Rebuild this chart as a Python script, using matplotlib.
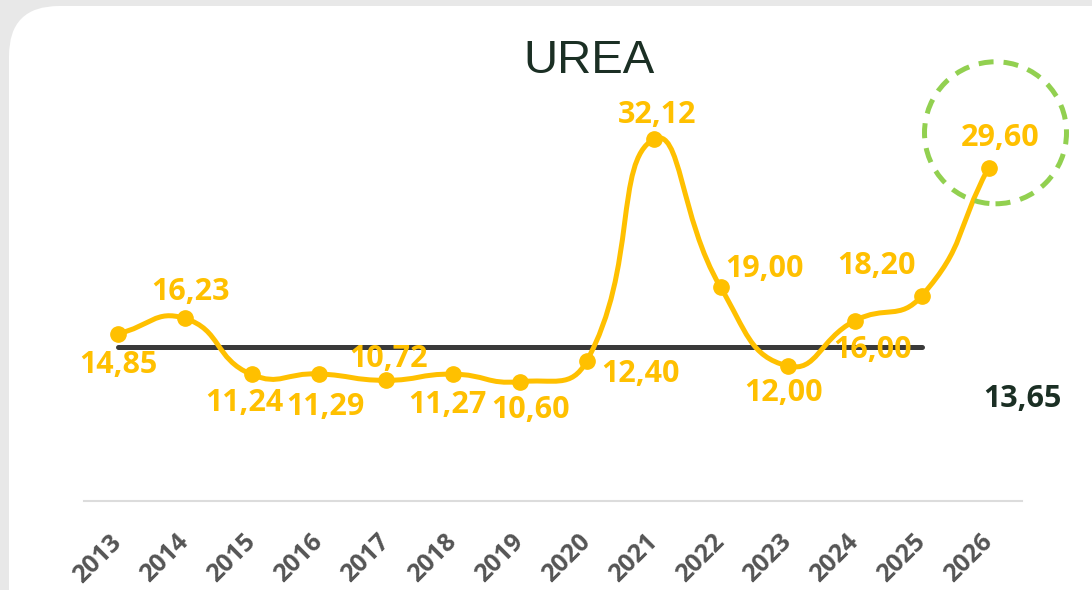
import matplotlib
matplotlib.use("Agg")
import matplotlib.pyplot as plt
import matplotlib.transforms as mtransforms
from matplotlib.patches import Circle, FancyBboxPatch, PathPatch
from matplotlib.path import Path
import numpy as np

# data
years = ["2013", "2014", "2015", "2016", "2017", "2018", "2019",
         "2020", "2021", "2022", "2023", "2024", "2025", "2026"]
prices = [14.85, 16.23, 11.24, 11.29, 10.72, 11.27, 10.60,
          12.40, 32.12, 19.00, 12.00, 16.00, 18.20, 29.60]
average = 13.65
average_last_year = "2025"
highlight_year = "2026"
title = "UREA"

# label offsets from each point, in pixels (x right, y up)
label_offsets = [(1, -31), (6, 26), (-7, -29), (7, -33), (3, 21), (-5, -31), (11, -28),
                 (54, -13), (4, 24), (44, 18), (-4, -27), (18, -29), (-45, 30), (12, 30)]

YELLOW = "#FFC000"
DARK = "#1b2f24"
GREEN = "#92D050"
LABEL_FONT = ["Open Sans", "DejaVu Sans"]


def fmt(v):
    return f"{v:.2f}".replace(".", ",")


def smooth_path(xs, ys, sx, sy, smooth=0.5):
    """bezier path through the points, control points like a smoothed line chart"""
    pts = np.column_stack([np.asarray(xs, float) * sx, np.asarray(ys, float) * sy])
    n = len(pts)
    cps = []
    for i in range(n):
        prev = pts[i - 1] if i > 0 else pts[i]
        nxt = pts[i + 1] if i < n - 1 else pts[i]
        v = nxt - prev
        d0 = np.hypot(*(pts[i] - prev))
        d1 = np.hypot(*(nxt - pts[i]))
        tot = d0 + d1 if d0 + d1 > 0 else 1
        cps.append((pts[i] - v * smooth * d0 / tot, pts[i] + v * smooth * d1 / tot))
    verts = [pts[0]]
    codes = [Path.MOVETO]
    for i in range(n - 1):
        verts += [cps[i][1], cps[i + 1][0], pts[i + 1]]
        codes += [Path.CURVE4] * 3
    verts = np.array(verts) / np.array([sx, sy])
    return Path(verts, codes)


fig = plt.figure(figsize=(10.92, 5.9), dpi=100, facecolor="#e8e8e8")
card = FancyBboxPatch((0.09, -1.0), 12.0, 6.84, boxstyle="round,pad=0,rounding_size=0.5",
                      transform=fig.dpi_scale_trans, facecolor="white", edgecolor="none",
                      zorder=-10)
fig.patches.append(card)

ax = fig.add_axes([84 / 1092, 89 / 590, 938 / 1092, 394 / 590])
ax.patch.set_visible(False)
x = np.arange(len(years))
ax.set_xlim(-0.5, len(years) - 0.5)
ax.set_ylim(0, 35)

# average line
last = years.index(average_last_year)
ax.plot([0, last], [average, average], color="#3a3a3a", lw=3.6,
        solid_capstyle="round", zorder=2)

# smoothed price line
px_x = 938 / len(years)
px_y = 394 / 35
path = smooth_path(x, prices, px_x, px_y)
ax.add_patch(PathPatch(path, facecolor="none", edgecolor=YELLOW, lw=3.6, zorder=3,
                       capstyle="round"))
ax.plot(x, prices, "o", color=YELLOW, ms=11, zorder=4)

for xi, v, (dx, dy) in zip(x, prices, label_offsets):
    ax.annotate(fmt(v), (xi, v), xytext=(dx * 0.72, dy * 0.72), textcoords="offset points",
                ha="center", va="center", color=YELLOW, fontsize=22,
                fontweight="bold", family=LABEL_FONT, zorder=5)

# dashed highlight circle around the last point
hi = years.index(highlight_year)
tr = fig.dpi_scale_trans + mtransforms.ScaledTranslation(hi, prices[hi], ax.transData)
ax.add_patch(Circle((0.07, 0.35), 0.71, transform=tr, facecolor="none", edgecolor=GREEN,
                    lw=3.6, linestyle=(0, (3, 2)), clip_on=False, zorder=6))

# axes styling
for side in ["top", "right", "left"]:
    ax.spines[side].set_visible(False)
ax.spines["bottom"].set_color("#dcdcdc")
ax.spines["bottom"].set_linewidth(1.5)
ax.set_yticks([])
ax.set_xticks(x)
ax.set_xticklabels(years, rotation=45, ha="right", va="center", rotation_mode="anchor",
                   fontsize=18, fontweight="bold", color="#555555", family=LABEL_FONT)
ax.tick_params(axis="x", length=0, pad=27)

fig.text(1022 / 1092, 1 - 399 / 590, fmt(average), ha="center", va="center",
         color=DARK, fontsize=22, fontweight="bold", family=LABEL_FONT)
fig.text(589 / 1092, 1 - 61 / 590, title, ha="center", va="center", color=DARK,
         fontsize=34, family=["Liberation Sans", "DejaVu Sans"])

fig.savefig("out.png", dpi=100, facecolor=fig.get_facecolor())
